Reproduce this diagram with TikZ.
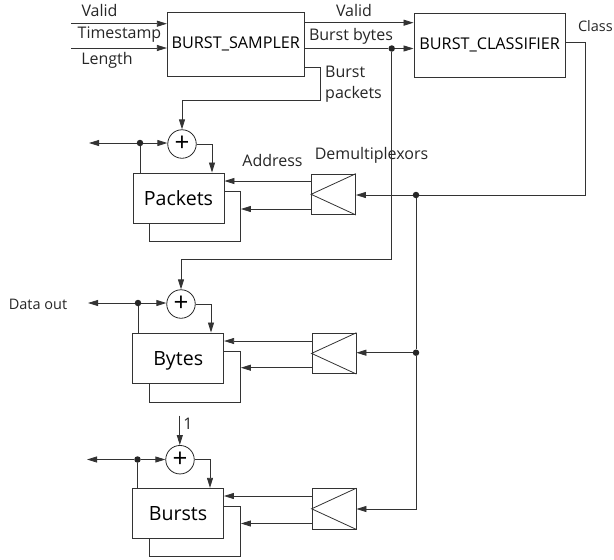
\documentclass[tikz,border=0pt]{standalone}
\usepackage{fontspec}
\setmainfont{Open Sans}
\usetikzlibrary{arrows.meta,calc}
\tikzset{
  wire/.style={line width=0.8pt,draw=black!80},
  arr/.style={wire,-{Stealth[length=10pt,width=6pt,inset=0pt]}},
  blockbox/.style={draw=black!80,line width=0.8pt,fill=white,rectangle,inner sep=0pt,minimum width=91pt,minimum height=50.5pt,text height=14pt,text depth=0pt,font=\fontsize{19.6}{21}\selectfont},
  bigbox/.style={draw=black!80,line width=0.8pt,fill=white,rectangle,inner sep=0pt,font=\fontsize{16.2}{18}\selectfont},
  backbox/.style={draw=black!80,line width=0.8pt,fill=white,rectangle,inner sep=0pt,minimum width=91pt,minimum height=50.5pt},
  demux/.style={draw=black!80,line width=0.8pt,rectangle,inner sep=0pt,minimum width=44pt,minimum height=40.5pt},
  adder/.style={draw=black!85,line width=0.8pt,circle,inner sep=0pt,minimum size=28.5pt,font=\fontsize{26}{26}\selectfont},
  joint/.style={fill=black!85,circle,inner sep=0pt,minimum size=6.5pt},
  lab/.style={inner sep=0pt,font=\fontsize{16}{21}\selectfont,text=black!85},
  smalllab/.style={lab,font=\fontsize{14.5}{17}\selectfont},
}
\begin{document}
\begin{tikzpicture}[x=1pt,y=-1pt]
\useasboundingbox (0,0) rectangle (614,560);
% main blocks
\node[bigbox,minimum width=137pt,minimum height=63.5pt] (sampler) at (235.8,44.2) {BURST\_SAMPLER};
\node[bigbox,minimum width=151.5pt,minimum height=64pt] (classifier) at (489.7,45) {BURST\_CLASSIFIER};
% memory blocks
\node[backbox] (pb) at (195,216.5) {};
\node[blockbox] (packets) at (178.5,198.2) {Packets};
\node[backbox] (bb) at (195,376.8) {};
\node[blockbox] (bytes) at (178.2,358.2) {Bytes};
\node[backbox] (ub) at (195,531.2) {};
\node[blockbox] (bursts) at (178,513.5) {Bursts};
% adders
\node[adder] (pa) at (182,144) {+};
\node[adder] (ba) at (181,304) {+};
\node[adder] (ua) at (180,459.7) {+};
% demultiplexors
\node[demux] (pd) at (333.5,194.3) {};
\node[demux] (bd) at (334,353.4) {};
\node[demux] (ud) at (334,508.8) {};
\foreach \d in {pd,bd,ud}{
  \draw[wire] (\d.north east) -- (\d.west) -- (\d.south east);
}
% joints
\node[joint] (jbytes) at (391.7,48.5) {};
\node[joint] (jc1) at (416,195) {};
\node[joint] (jc2) at (416,352.7) {};
\node[joint] (jp) at (140,143) {};
\node[joint] (jb) at (138,303) {};
\node[joint] (ju) at (137.5,459.5) {};
% free ends and bends
\coordinate (inA) at (71,23.7);
\coordinate (inB) at (71,48);
\coordinate (outV) at (304.3,22.7);
\coordinate (outP) at (304.3,67);
\coordinate (bendP) at (320,100.5);
\coordinate (bendB) at (391.7,259.7);
\coordinate (leftp) at (89,143);
\coordinate (leftb) at (88,303);
\coordinate (leftu) at (87,459.5);
\coordinate (one) at (179.8,415.5);
\coordinate (bendC) at (585,195);
\coordinate (bendU) at (416,509);
% sampler inputs and outputs
\draw[arr] (inA) -- (inA -| sampler.west);
\draw[arr] (inB) -- (inB -| sampler.west);
\draw[arr] (outV) -- (outV -| classifier.west);
\draw[wire] (sampler.east |- jbytes) -- (jbytes);
\draw[arr] (jbytes) -- (jbytes -| classifier.west);
\draw[arr] (outP) -| (bendP) -| (pa.north);
% class line
\draw[wire] (classifier.east |- 0,42.5) -| (bendC) -- (jc1);
\draw[arr] (jc1) -- (jc1 -| pd.east);
\draw[wire] (jc1) -- (jc2);
\draw[arr] (jc2) -- (jc2 -| bd.east);
\draw[arr] (jc2) -- (bendU) -- (bendU -| ud.east);
% burst bytes down
\draw[arr] (jbytes) -- (bendB) -| (ba.north);
\draw[arr] (one) -- (one |- ua.north);
% adders feedback
\draw[arr] (jp) -- (leftp);
\draw[arr] (jp) -- (jp -| pa.west);
\draw[wire] (jp) -- (jp |- packets.north);
\draw[arr] (pa.east) -| ($(packets.north)+(33.5,0)$);
\draw[arr] (jb) -- (leftb);
\draw[arr] (jb) -- (jb -| ba.west);
\draw[wire] (jb) -- (jb |- bytes.north);
\draw[arr] (ba.east) -| ($(bytes.north)+(32.8,0)$);
\draw[arr] (ju) -- (leftu);
\draw[arr] (ju) -- (ju -| ua.west);
\draw[wire] (ju) -- (ju |- bursts.north);
\draw[arr] (ua.east) -| ($(bursts.north)+(32,0)$);
% demux outputs
\coordinate (p1) at (311.5,181);
\coordinate (p2) at (311.5,209);
\coordinate (b1) at (312,341);
\coordinate (b2) at (312,367.7);
\coordinate (u1) at (312,496);
\coordinate (u2) at (312,523.5);
\draw[arr] (p1) -- (p1 -| packets.east);
\draw[arr] (p2) -- (p2 -| pb.east);
\draw[arr] (b1) -- (b1 -| bytes.east);
\draw[arr] (b2) -- (b2 -| bb.east);
\draw[arr] (u1) -- (u1 -| bursts.east);
\draw[arr] (u2) -- (u2 -| ub.east);
% labels
\node[lab] (l1) at (99.5,10.5) {Valid};
\node[lab] (l2) at (119.5,35) {Timestamp};
\node[lab] (l3) at (107,60.5) {Length};
\node[lab] (l4) at (354,10) {Valid};
\node[lab] (l5) at (351,36) {Burst bytes};
\node[lab,align=left,anchor=west] (l6) at (325,84) {Burst\\packets};
\node[smalllab,anchor=east] (l7) at (613,26) {Class};
\node[lab] (l8) at (272.5,160) {Address};
\node[lab] (l9) at (371.5,155.5) {Demultiplexors};
\node[smalllab] (l10) at (38,304) {Data out};
\node[lab] (l11) at (188,424) {1};
\end{tikzpicture}
\end{document}
